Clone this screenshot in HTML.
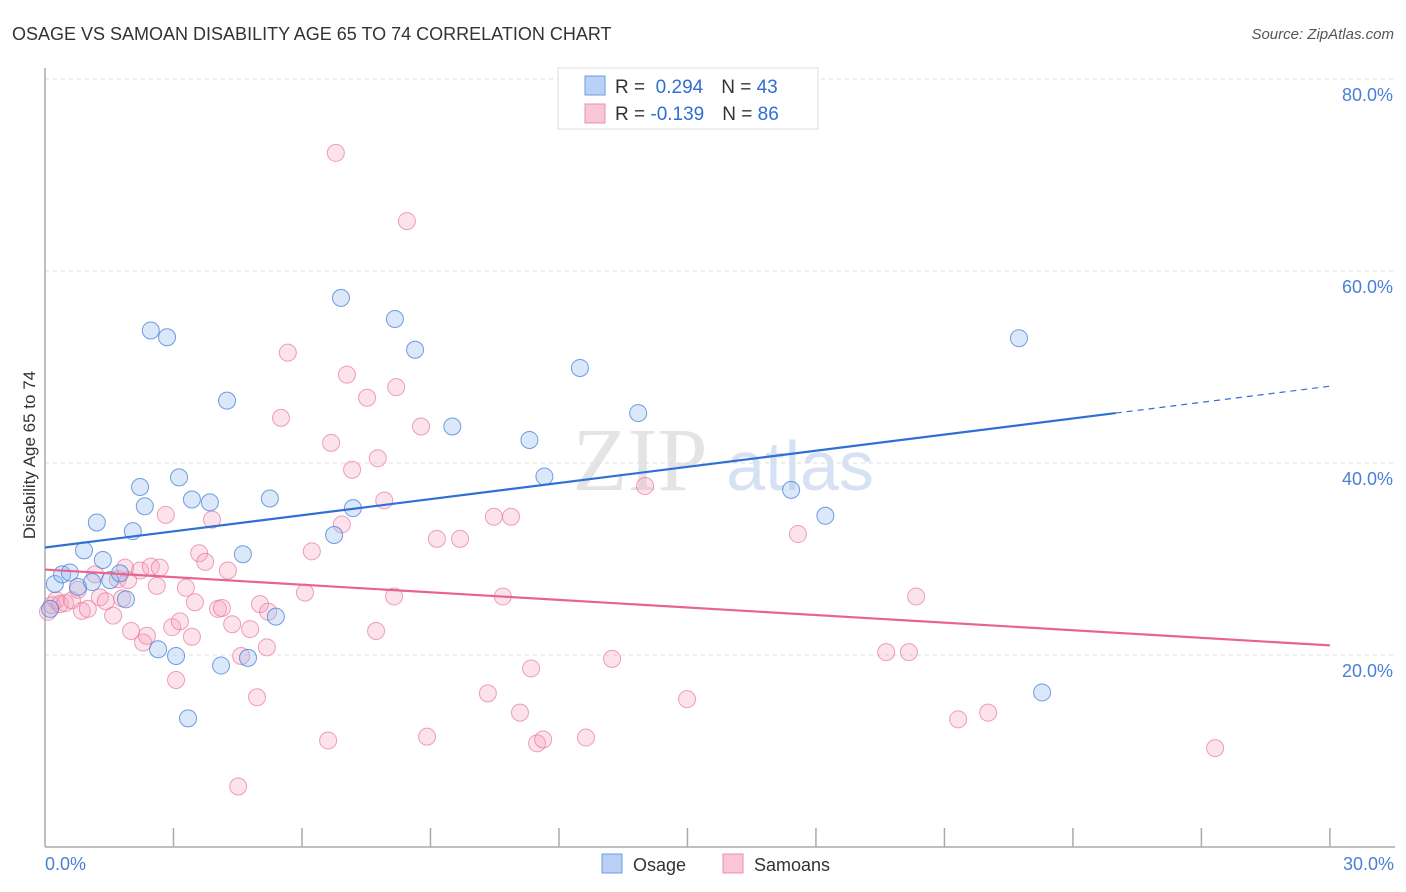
<!DOCTYPE html>
<html><head><meta charset="utf-8"><style>
body{margin:0;background:#fff;font-family:"Liberation Sans",sans-serif;}
svg{display:block}
</style></head><body>
<svg width="1406" height="892" xmlns="http://www.w3.org/2000/svg">
<text x="12" y="40" font-size="18" fill="#333">OSAGE VS SAMOAN DISABILITY AGE 65 TO 74 CORRELATION CHART</text>
<text x="1394" y="39" font-size="15" fill="#555" font-style="italic" text-anchor="end">Source: ZipAtlas.com</text>
<text x="640" y="490" font-size="90" fill="#e4e4e4" font-family="Liberation Serif,serif" text-anchor="middle">ZIP</text>
<text x="800" y="490" font-size="70" fill="#d6e2f4" text-anchor="middle">atlas</text>
<g id="grid"></g>
<line x1="45" y1="68" x2="45" y2="847" stroke="#aaa" stroke-width="1.5"/>
<line x1="45" y1="847" x2="1395" y2="847" stroke="#aaa" stroke-width="1.5"/>
<g id="xticks"></g>
<text x="35" y="455" font-size="17" fill="#333" text-anchor="middle" transform="rotate(-90 35 455)">Disability Age 65 to 74</text>
<text x="45" y="870" font-size="18" fill="#4a7fd6">0.0%</text>
<text x="1394" y="870" font-size="18" fill="#4a7fd6" text-anchor="end">30.0%</text>
<g id="pts"></g>
<g id="trends"></g>
<g>
<rect x="558" y="68" width="260" height="61" fill="#fff" stroke="#ddd"/>
<rect x="585" y="76" width="20" height="19" fill="#b8d1f5" stroke="#6f9be0"/>
<rect x="585" y="104" width="20" height="19" fill="#f9c6d6" stroke="#ec8fae"/>
<text x="615" y="93" font-size="19" fill="#333">R = <tspan fill="#2e6fd4">&#160;0.294</tspan><tspan dx="18">N = </tspan><tspan fill="#2e6fd4">43</tspan></text>
<text x="615" y="120" font-size="19" fill="#333">R = <tspan fill="#2e6fd4">-0.139</tspan><tspan dx="18">N = </tspan><tspan fill="#2e6fd4">86</tspan></text>
</g>
<g>
<rect x="602" y="854" width="20" height="19" fill="#b8d1f5" stroke="#6f9be0"/>
<text x="633" y="871" font-size="18" fill="#333">Osage</text>
<rect x="723" y="854" width="20" height="19" fill="#f9c6d6" stroke="#ec8fae"/>
<text x="754" y="871" font-size="18" fill="#333">Samoans</text>
</g>
</svg>
<script>
const yTicks=[20,40,60,80];
const osageX=[0.12,0.23,0.4,0.58,0.77,0.91,1.1,1.21,1.35,1.52,1.75,1.89,2.05,2.22,2.33,2.47,2.64,2.85,3.06,3.13,3.34,3.43,3.85,4.11,4.25,4.62,4.74,5.25,5.39,6.75,6.91,7.19,8.17,8.64,9.51,11.31,11.66,12.49,13.85,17.42,18.22,22.74,23.28];
const osageY=[24.8,27.4,28.4,28.6,27.1,30.9,27.6,33.8,29.9,27.8,28.5,25.8,32.9,37.5,35.5,53.8,20.6,53.1,19.9,38.5,13.4,36.2,35.9,18.9,46.5,30.5,19.7,36.3,24.0,32.5,57.2,35.3,55.0,51.8,43.8,42.4,38.6,49.9,45.2,37.2,34.5,53.0,16.1];
const samX=[0.07,0.16,0.26,0.35,0.47,0.63,0.77,0.86,1.0,1.17,1.28,1.42,1.59,1.7,1.8,1.87,1.94,2.01,2.22,2.29,2.38,2.47,2.61,2.68,2.82,2.97,3.06,3.15,3.29,3.43,3.5,3.6,3.74,3.9,4.04,4.13,4.27,4.37,4.51,4.58,4.79,4.95,5.02,5.18,5.21,5.51,5.67,6.07,6.23,6.61,6.68,6.79,6.93,7.05,7.17,7.52,7.73,7.77,7.92,8.15,8.2,8.45,8.78,8.92,9.15,9.69,10.34,10.48,10.69,10.88,11.09,11.35,11.49,11.63,12.63,13.24,14.01,14.99,17.58,19.64,20.17,20.34,21.32,22.02,27.32];
const samY=[24.5,25.2,25.7,25.3,25.4,25.7,26.8,24.6,24.8,28.4,26.0,25.6,24.1,27.9,25.9,29.1,27.8,22.5,28.8,21.3,22.0,29.2,27.2,29.1,34.6,22.9,17.4,23.5,27.0,21.9,25.5,30.6,29.7,34.1,24.8,24.9,28.8,23.2,6.3,19.9,22.7,15.6,25.3,20.8,24.5,44.7,51.5,26.5,30.8,11.1,42.1,72.3,33.6,49.2,39.3,46.8,22.5,40.5,36.1,26.1,47.9,65.2,43.8,11.5,32.1,32.1,16.0,34.4,26.1,34.4,14.0,18.6,10.8,11.2,11.4,19.6,37.6,15.4,32.6,20.3,20.3,26.1,13.3,14.0,10.3];
const osageTrend=[31.2,45.2,48.0]; // at x=0, 25, 30
const samTrend=[28.9,21.0]; // at x=0, 30
const NS="http://www.w3.org/2000/svg";
const X=v=>45+v*42.83, Y=v=>847-v*9.6;
function mk(tag,attrs,parent){const e=document.createElementNS(NS,tag);for(const k in attrs)e.setAttribute(k,attrs[k]);document.getElementById(parent).appendChild(e);return e;}
yTicks.forEach(t=>{
 const l=mk('line',{x1:45,x2:1395,y1:Y(t),y2:Y(t),stroke:'#ddd','stroke-dasharray':'4,4'},'grid');
 
 
 const tx=mk('text',{x:1393,y:Y(t)+22,'font-size':18,fill:'#4a7fd6','text-anchor':'end'},'grid');
 tx.textContent=t.toFixed(1)+'%';
 
 
});
for(let i=1;i<=10;i++){
 const l=mk('line',{x1:X(i*3),x2:X(i*3),y1:828,y2:847,stroke:'#aaa','stroke-width':1.5},'xticks');
 
 
}
samX.forEach((x,i)=>{
 const c=mk('circle',{cx:X(x),cy:Y(samY[i]),r:8.5,fill:'rgba(245,160,188,0.3)',stroke:'rgba(234,120,158,0.7)','stroke-width':1},'pts');
 
 
});
osageX.forEach((x,i)=>{
 const c=mk('circle',{cx:X(x),cy:Y(osageY[i]),r:8.5,fill:'rgba(150,188,240,0.35)',stroke:'rgba(70,125,215,0.75)','stroke-width':1},'pts');
 
 
});
let t1=mk('line',{x1:X(0),y1:Y(osageTrend[0]),x2:X(25),y2:Y(osageTrend[1]),stroke:'#2f6fd6','stroke-width':2.2},'trends');


let t2=mk('line',{x1:X(25),y1:Y(osageTrend[1]),x2:X(30),y2:Y(osageTrend[2]),stroke:'#2f6fd6','stroke-width':1.2,'stroke-dasharray':'6,5'},'trends');


let t3=mk('line',{x1:X(0),y1:Y(samTrend[0]),x2:X(30),y2:Y(samTrend[1]),stroke:'#e8638f','stroke-width':2.2},'trends');


</script>
</body></html>
